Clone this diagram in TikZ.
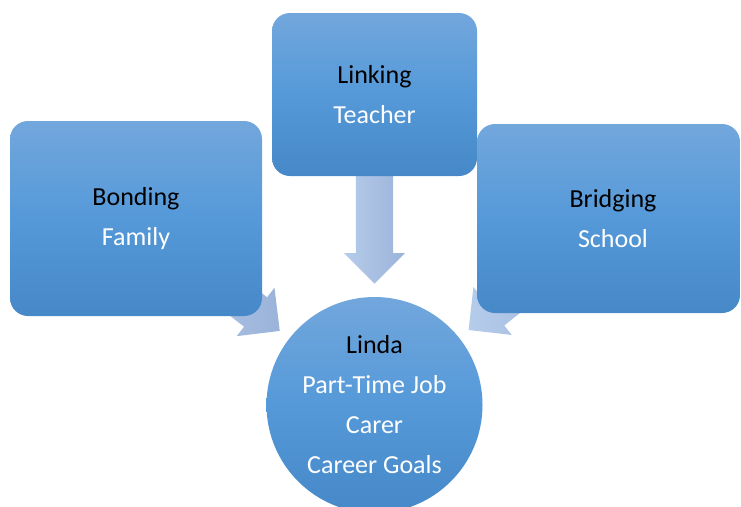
\documentclass[tikz,border=0pt]{standalone}
\usepackage{fontspec}
\setmainfont{Carlito}
\usetikzlibrary{shapes.arrows,calc,backgrounds}
\definecolor{bxtop}{HTML}{72A7DC}
\definecolor{bxmid}{HTML}{5599D9}
\definecolor{bxbot}{HTML}{4688C8}
\definecolor{artail}{HTML}{B6CCEB}
\definecolor{artip}{HTML}{9BB3D9}
\tikzset{
  fillgrad/.style={shading=axis, top color=bxtop, bottom color=bxbot, middle color=bxmid},
  box/.style={fillgrad, rounded corners=18pt, inner sep=0pt, align=center,
    font=\fontsize{26}{40}\selectfont},
  hub/.style={fillgrad, circle, minimum size=216pt, inner sep=0pt, align=center,
    font=\fontsize{26}{40}\selectfont},
  blockarrow/.style={single arrow, minimum width=61pt, minimum height=140pt,
    single arrow head extend=12pt, inner xsep=0pt, inner ysep=18.5pt,
    text height=0pt, text depth=0pt,
    left color=artail, right color=artip,
    sloped, allow upside down, anchor=tip, at end},
}
\begin{document}
\begin{tikzpicture}[x=1pt,y=-1pt]
\useasboundingbox (0,0) rectangle (741,506);
\node[box, minimum width=252pt, minimum height=195pt] (bond) at (136,218.5)
  {Bonding\\\textcolor{white}{Family}};
\node[box, minimum width=205pt, minimum height=163pt] (link) at (374.5,94.5)
  {Linking\\\textcolor{white}{Teacher}};
\node[box, minimum width=263pt, minimum height=189pt] (bridge) at (608.5,218.5)
  {\hspace*{9pt}Bridging\\\hspace*{9pt}\textcolor{white}{School}};
\node[hub] (linda) at (374.5,405)
  {Linda\\\textcolor{white}{Part-Time Job}\\\textcolor{white}{Carer}\\\textcolor{white}{Career Goals}};
\begin{pgfonlayer}{background}
  \path (bond.center) -- node[blockarrow] {} ($(linda.center)!120pt!(bond.center)$);
  \path (link.center) -- node[blockarrow] {} ($(linda.center)!121pt!(link.center)$);
  \path (bridge.center) -- node[blockarrow] {} ($(linda.center)!120pt!(bridge.center)$);
\end{pgfonlayer}
\end{tikzpicture}
\end{document}
